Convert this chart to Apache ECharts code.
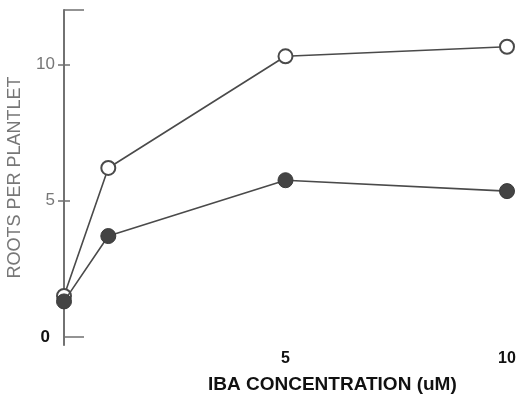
<!DOCTYPE html>
<html><head><meta charset="utf-8">
<script src="https://cdn.jsdelivr.net/npm/echarts@6/dist/echarts.min.js"></script>
<style>html,body{margin:0;padding:0;background:#fff}#c{width:521px;height:394px}</style>
</head><body><div id="c"></div>
<script>
const ibaConc = [0, 1, 5, 10];
const openRoots = [1.5, 6.2, 10.3, 10.65];
const filledRoots = [1.3, 3.7, 5.75, 5.35];
const yTicks = [0, 5, 10];
const xTicks = [5, 10];
const yTitle = 'ROOTS PER PLANTLET';
const xTitle = 'IBA CONCENTRATION (uM)';

const axisCol = '#707070';
const lineCol = '#4a4a4a';
const YMIN = -0.3, YMAX = 12;

function yAx(extra) {
  return Object.assign({
    type: 'value', position: 'left', min: YMIN, max: YMAX, offset: 0,
    splitLine: { show: false },
    axisLine: { show: true, lineStyle: { color: axisCol, width: 1.5 } },
    axisTick: { show: false },
    axisLabel: { show: false }
  }, extra);
}

const chart = echarts.init(document.getElementById('c'));
chart.setOption({
  animation: false,
  backgroundColor: '#fff',
  grid: { left: 64, right: 14, top: 10, bottom: 49, containLabel: false, outerBoundsMode: 'none' },
  title: {
    text: xTitle, left: 203, top: 370,
    textStyle: { fontFamily: '"Liberation Sans", Arial, sans-serif', fontWeight: 'bold', fontSize: 19, color: '#111' }
  },
  xAxis: {
    type: 'value', min: 0, max: 10,
    axisLine: { show: false }, axisTick: { show: false }, splitLine: { show: false },
    axisLabel: {
      customValues: xTicks, margin: 6,
      fontFamily: '"Liberation Sans", Arial, sans-serif', fontWeight: 'bold', fontSize: 16, color: '#111'
    }
  },
  yAxis: [
    yAx({
      name: yTitle, nameLocation: 'middle', nameGap: 40,
      nameTextStyle: { fontFamily: '"Liberation Sans", Arial, sans-serif', fontSize: 18, color: '#777' },
      axisTick: { show: true, inside: false, length: 6, customValues: [5, 10], lineStyle: { color: axisCol, width: 1.5 } },
      axisLabel: {
        show: true, customValues: yTicks, margin: 9,
        formatter: v => v === 0 ? '{z|0}' : '{g|' + v + '}',
        rich: {
          g: { fontFamily: '"Liberation Sans", Arial, sans-serif', fontSize: 17, color: '#777' },
          z: { fontFamily: '"Liberation Sans", Arial, sans-serif', fontSize: 17, fontWeight: 'bold', color: '#111', padding: [0, 5, 0, 0] }
        }
      }
    }),
    yAx({ axisTick: { show: true, inside: true, length: 6, customValues: [5, 10], lineStyle: { color: axisCol, width: 1.5 } } }),
    yAx({ axisTick: { show: true, inside: true, length: 20, customValues: [0, 12], lineStyle: { color: axisCol, width: 1.5 } } })
  ],
  series: [
    {
      type: 'line', name: 'open', yAxisIndex: 0, clip: false,
      data: ibaConc.map((x, i) => [x, openRoots[i]]),
      symbol: 'circle', symbolSize: 14,
      lineStyle: { color: lineCol, width: 1.6 },
      itemStyle: { color: '#fff', borderColor: lineCol, borderWidth: 2 },
      z: 3
    },
    {
      type: 'line', name: 'filled', yAxisIndex: 0, clip: false,
      data: ibaConc.map((x, i) => [x, filledRoots[i]]),
      symbol: 'circle', symbolSize: 15,
      lineStyle: { color: lineCol, width: 1.6 },
      itemStyle: { color: '#444', borderColor: '#3a3a3a', borderWidth: 1 },
      z: 4
    }
  ]
});
</script></body></html>
